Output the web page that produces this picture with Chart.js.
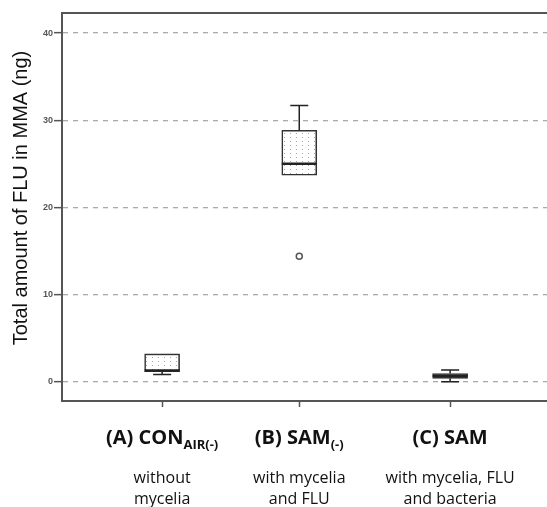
<!DOCTYPE html>
<html>
<head>
<meta charset="utf-8">
<script src="https://cdn.jsdelivr.net/npm/chart.js@4.4.1/dist/chart.umd.min.js"></script>
<style>
html, body { margin: 0; padding: 0; background: #fff; overflow: hidden; }
#wrap { width: 553px; height: 507px; }
</style>
</head>
<body>
<div id="wrap"><canvas id="chart-flu"></canvas></div>
<script>

/* Data */

var groupTags = [ "(A)", "(B)", "(C)" ];
var groupPos = [ 1, 2, 3.1 ];
var whiskerLow = [ 0.85, 23.7, 0.0 ];
var boxLow = [ 1.15, 23.7, 0.4 ];
var medians = [ 1.3, 25.0, 0.7 ];
var boxHigh = [ 3.2, 28.85, 0.95 ];
var whiskerHigh = [ 3.2, 31.7, 1.35 ];
var outlierGroup = [ 1 ];
var outlierValue = [ 14.4 ];
var yTicks = [ 0, 10, 20, 30, 40 ];
var labelMain = [ "CON", "SAM", "SAM" ];
var labelSub = [ "AIR(-)", "(-)", "" ];
var labelLine2 = [ "without", "with mycelia", "with mycelia, FLU" ];
var labelLine3 = [ "mycelia", "and FLU", "and bacteria" ];
var yTitle = "Total amount of FLU in MMA (ng)";

/* Dotted fill */

var pc = document.createElement('canvas');
pc.width = 6; pc.height = 4;
var pctx = pc.getContext('2d');
pctx.fillStyle = '#fff';
pctx.fillRect(0, 0, 6, 4);
pctx.fillStyle = '#a8a8a8';
pctx.fillRect(2, 1, 1, 1);
var ctxflu = document.getElementById("chart-flu").getContext('2d');
var dots = ctxflu.createPattern(pc, 'repeat');

/* Whiskers, medians, frame and labels */

var boxParts = {
	id: 'boxParts',
	afterDatasetsDraw: function(chart) {
		var c = chart.ctx, xs = chart.scales.x, ys = chart.scales.y;
		c.save();
		c.strokeStyle = '#222';
		for (var i = 0; i < groupPos.length; i++) {
			var x = xs.getPixelForValue(groupPos[i]);
			c.lineWidth = 1.5;
			c.beginPath();
			if (whiskerHigh[i] > boxHigh[i]) {
				c.moveTo(x, ys.getPixelForValue(boxHigh[i]));
				c.lineTo(x, ys.getPixelForValue(whiskerHigh[i]));
				c.moveTo(x - 9, ys.getPixelForValue(whiskerHigh[i]));
				c.lineTo(x + 9, ys.getPixelForValue(whiskerHigh[i]));
			}
			if (whiskerLow[i] < boxLow[i]) {
				c.moveTo(x, ys.getPixelForValue(boxLow[i]));
				c.lineTo(x, ys.getPixelForValue(whiskerLow[i]));
				c.moveTo(x - 9, ys.getPixelForValue(whiskerLow[i]));
				c.lineTo(x + 9, ys.getPixelForValue(whiskerLow[i]));
			}
			c.stroke();
			c.lineWidth = 2.5;
			c.beginPath();
			c.moveTo(x - 17.5, ys.getPixelForValue(medians[i]));
			c.lineTo(x + 17.5, ys.getPixelForValue(medians[i]));
			c.stroke();
		}
		c.restore();
	},
	afterDraw: function(chart) {
		var c = chart.ctx, xs = chart.scales.x, a = chart.chartArea;
		c.save();
		c.strokeStyle = '#555';
		c.lineWidth = 2;
		c.beginPath();
		c.moveTo(a.left - 1, a.top);
		c.lineTo(chart.width, a.top);
		c.stroke();

		c.fillStyle = '#111';
		c.textBaseline = 'alphabetic';
		for (var i = 0; i < groupPos.length; i++) {
			var x = xs.getPixelForValue(groupPos[i]);
			var head = groupTags[i] + " " + labelMain[i];
			c.font = 'bold 20px "Open Sans"';
			var w1 = c.measureText(head).width;
			c.font = 'bold 13px "Open Sans"';
			var w2 = labelSub[i] ? c.measureText(labelSub[i]).width : 0;
			var x0 = x - (w1 + w2) / 2;
			c.textAlign = 'left';
			c.font = 'bold 20px "Open Sans"';
			c.fillText(head, x0, 444);
			if (labelSub[i]) {
				c.font = 'bold 13px "Open Sans"';
				c.fillText(labelSub[i], x0 + w1, 449);
			}
			c.textAlign = 'center';
			c.font = '16px "Open Sans"';
			c.fillText(labelLine2[i], x, 483);
			c.fillText(labelLine3[i], x, 504);
		}

		c.translate(21, 198);
		c.rotate(-Math.PI / 2);
		c.textAlign = 'center';
		c.textBaseline = 'middle';
		c.font = '20px "Liberation Sans"';
		c.fillStyle = '#111';
		c.fillText(yTitle, 0, 0);
		c.restore();
	}
};

/* Box plot */

var myChart = new Chart(ctxflu, {
	data: {
		datasets: [{
			type: 'bar',
			data: groupPos.map(function(x, i) { return { x: x, y: [ boxLow[i], boxHigh[i] ] }; }),
			backgroundColor: dots,
			borderColor: '#333',
			borderWidth: 1.6,
			borderSkipped: false,
			barThickness: 35,
			order: 2
		}, {
			type: 'scatter',
			data: outlierGroup.map(function(g, i) { return { x: groupPos[g], y: outlierValue[i] }; }),
			pointStyle: 'circle',
			pointRadius: 3,
			pointBorderWidth: 1.5,
			pointBorderColor: '#555',
			pointBackgroundColor: '#fff',
			order: 1
		}]
	},
	options: {
		responsive: true,
		maintainAspectRatio: false,
		animation: false,
		events: [],
		layout: { padding: { top: 13, right: 0, bottom: 0, left: 0 } },
		plugins: { legend: { display: false }, tooltip: { enabled: false } },
		scales: {
			x: {
				type: 'linear',
				min: 0.27,
				max: 3.81,
				offset: false,
				afterBuildTicks: function(s) { s.ticks = groupPos.map(function(v) { return { value: v }; }); },
				afterFit: function(s) { s.height = 106; },
				ticks: { display: false },
				grid: { offset: false, drawOnChartArea: false, drawTicks: true, tickLength: 6, tickColor: '#555', tickWidth: 1.5 },
				border: { color: '#555', width: 2 }
			},
			y: {
				min: -2.2,
				max: 42.3,
				afterBuildTicks: function(s) { s.ticks = yTicks.map(function(v) { return { value: v }; }); },
				afterFit: function(s) { s.width = 62; },
				ticks: { font: { family: 'Arial', size: 9, weight: 'bold' }, color: '#555', padding: 1 },
				grid: { color: '#aaa', lineWidth: 1.3, tickLength: 8, tickColor: '#555', tickWidth: 1.5, tickBorderDash: [] },
				border: { color: '#555', width: 2, dash: [5, 5] }
			}
		}
	},
	plugins: [ boxParts ]
});

</script>
</body>
</html>
